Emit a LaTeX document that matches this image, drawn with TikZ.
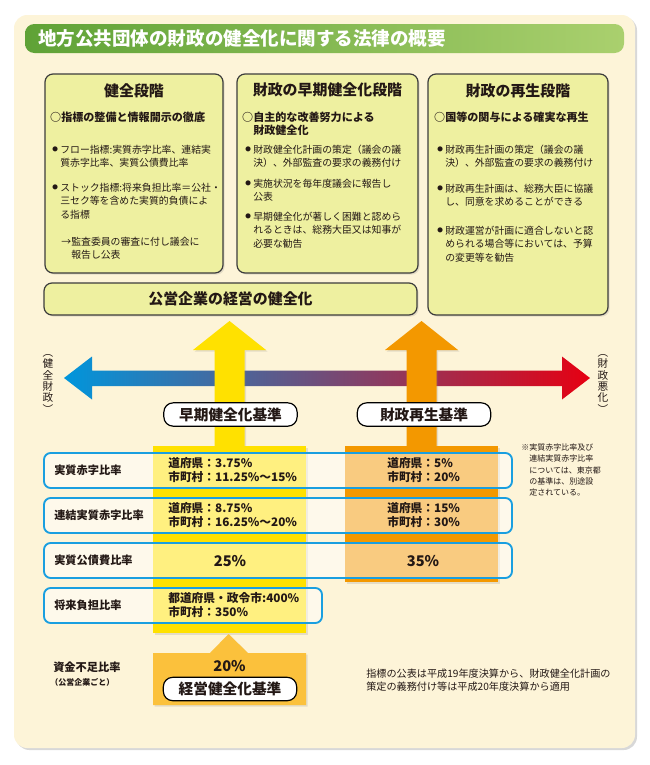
\documentclass[tikz,border=0pt]{standalone}
\usepackage{fontspec}
\setmainfont{Noto Sans CJK JP}
\usetikzlibrary{shadows}
\definecolor{panel}{HTML}{FDF4D8}
\definecolor{boxfill}{HTML}{EEF0A0}
\definecolor{boxline}{HTML}{3C3C3C}
\definecolor{ttlL}{HTML}{5FA236}
\definecolor{ttlR}{HTML}{AAD06E}
\definecolor{yel}{HTML}{FFE100}
\definecolor{org}{HTML}{F39800}
\definecolor{gold}{HTML}{FBC13C}
\definecolor{rowblue}{HTML}{1A9FE0}
\definecolor{ink}{HTML}{231815}
\definecolor{arrL}{HTML}{0096DC}
\definecolor{arrM}{HTML}{86827C}
\definecolor{arrR}{HTML}{E60012}
\newcommand{\bul}{\llap{\raisebox{0.22em}{\fontsize{4.2}{4.2}\selectfont ●}\hspace{1.8pt}}}
\tikzset{
  softshadow/.style={drop shadow={opacity=0.2,shadow xshift=1.2pt,shadow yshift=-1.2pt}},
  stagebox/.style={draw=boxline, line width=0.9pt, fill=boxfill, rounded corners=6pt, softshadow},
  titletext/.style={text=white, font=\bfseries\fontsize{13.9}{16}\selectfont, inner sep=0pt},
  head/.style={text=ink, font=\bfseries\fontsize{11.2}{13}\selectfont, inner sep=0pt},
  circ/.style={text=ink, font=\bfseries\fontsize{8.3}{9.9}\selectfont, inner sep=0pt, anchor=west, align=left},
  body/.style={text=ink, font=\fontsize{7.4}{10}\selectfont, inner sep=0pt, anchor=west, align=left},
  vert/.style={text=ink, font=\fontsize{8}{8.5}\selectfont, inner sep=0pt, align=center},
  pill/.style={draw=black, line width=0.9pt, fill=white, rounded corners=7pt, text=ink,
     font=\bfseries\fontsize{11}{13}\selectfont, inner sep=0pt, minimum width=100pt, minimum height=17.5pt},
  rowbox/.style={draw=rowblue, line width=1.4pt, fill=white, fill opacity=0.5, rounded corners=5pt},
  rowlabel/.style={text=ink, font=\bfseries\fontsize{8.4}{10}\selectfont, inner sep=0pt, anchor=west},
  coltext/.style={text=ink, font=\bfseries\fontsize{8.8}{10.5}\selectfont, inner sep=0pt, anchor=west, align=left},
  bigtext/.style={text=ink, font=\bfseries\fontsize{11}{13}\selectfont, inner sep=0pt},
  note/.style={text=ink, font=\fontsize{6}{8.6}\selectfont, inner sep=0pt, anchor=west, align=left},
  foot/.style={text=ink, font=\fontsize{7.6}{9.9}\selectfont, inner sep=0pt, anchor=west, align=left}
}
\begin{document}
\begin{tikzpicture}[x=0.75pt,y=-0.75pt]
\useasboundingbox (0,0) rectangle (650,765);
\fill[white] (0,0) rectangle (650,765);
% panel
\fill[panel, rounded corners=10pt, drop shadow={opacity=0.3,shadow xshift=1.5pt,shadow yshift=-1.5pt}] (14,15) rectangle (635,748);
% title bar
\shade[left color=ttlL, right color=ttlR, rounded corners=7pt] (25,24) rectangle (624,53);
\node[titletext, anchor=west] (title) at (38,38.5) {地方公共団体の財政の健全化に関する法律の概要};

% stage boxes
\draw[stagebox] (45,74) rectangle (223,273);
\draw[stagebox] (237,74) rectangle (418,273);
\draw[stagebox] (428,74) rectangle (608,315);
\draw[stagebox] (44,283) rectangle (417,315);

% box 1
\node[head] (h1) at (134,91) {健全段階};
\node[circ] (c1) at (61,117) {\llap{○}指標の整備と情報開示の徹底};
\node[body] (b11) at (60,156.5) {\bul フロー指標:実質赤字比率、連結実\\質赤字比率、実質公債費比率};
\node[body] (b12) at (60,201) {\bul ストック指標:将来負担比率＝公社・\\三セク等を含めた実質的負債によ\\る指標};
\node[body] (b13) at (71,248.5) {\llap{→}監査委員の審査に付し議会に\\報告し公表};

% box 2
\node[head] (h2) at (327.5,90) {財政の早期健全化段階};
\node[circ] (c2) at (253,123.5) {\llap{○}自主的な改善努力による\\財政健全化};
\node[body] (b21) at (253,156.5) {\bul 財政健全化計画の策定（議会の議\\決）、外部監査の要求の義務付け};
\node[body] (b22) at (253,190.5) {\bul 実施状況を毎年度議会に報告し\\公表};
\node[body] (b23) at (253,230) {\bul 早期健全化が著しく困難と認めら\\れるときは、総務大臣又は知事が\\必要な勧告};

% box 3
\node[head] (h3) at (518,91) {財政の再生段階};
\node[circ] (c3) at (445,117) {\llap{○}国等の関与による確実な再生};
\node[body] (b31) at (445,156.5) {\bul 財政再生計画の策定（議会の議\\決）、外部監査の要求の義務付け};
\node[body] (b32) at (445,195.5) {\bul 財政再生計画は、総務大臣に協議\\し、同意を求めることができる};
\node[body] (b33) at (445,244) {\bul 財政運営が計画に適合しないと認\\められる場合等においては、予算\\の変更等を勧告};

% box 4
\node[head] (h4) at (230.5,299) {公営企業の経営の健全化};

% horizontal double arrow
\shade[left color=arrL, middle color=arrM, right color=arrR]
  (64,378) -- (92,356.5) -- (92,370.5) -- (562,370.5) -- (562,356.5) -- (590,378)
  -- (562,399.5) -- (562,386) -- (92,386) -- (92,399.5) -- cycle;

% vertical arrows
\fill[yel, softshadow] (214.5,447) -- (214.5,350) -- (193,350) -- (229.5,321) -- (266,350) -- (244.5,350) -- (244.5,447) -- cycle;
\fill[org, softshadow] (406.5,447) -- (406.5,350) -- (385,350) -- (421.5,321) -- (458,350) -- (436.5,350) -- (436.5,447) -- cycle;

% side texts
\node[vert] (lv) at (48,384) {︵\\健\\全\\財\\政\\︶};
\node[vert] (rv) at (603,384) {︵\\財\\政\\悪\\化\\︶};

% criteria labels
\node[pill] (k1) at (230.5,414.5) {早期健全化基準};
\node[pill] (k2) at (424,414.5) {財政再生基準};

% columns
\fill[yel, softshadow] (153,446) rectangle (306,633);
\fill[org, softshadow] (345,446) rectangle (498,582);

% rows
\draw[rowbox] (44,453) rectangle (512,488);
\draw[rowbox] (44,498) rectangle (512,533);
\draw[rowbox] (44,543) rectangle (512,578);
\draw[rowbox] (44,588) rectangle (322,623);

\node[rowlabel] (r1) at (54,470.5) {実質赤字比率};
\node[rowlabel] (r2) at (54,515.5) {連結実質赤字比率};
\node[rowlabel] (r3) at (54,560.5) {実質公債費比率};
\node[rowlabel] (r4) at (54,605.5) {将来負担比率};

\node[coltext] (y1) at (168,470) {道府県：3.75\%\\市町村：11.25\%～15\%};
\node[coltext] (y2) at (168,515) {道府県：8.75\%\\市町村：16.25\%～20\%};
\node[bigtext] (y3) at (230,561) {25\%};
\node[coltext] (y4) at (168,605) {都道府県・政令市:400\%\\市町村：350\%};

\node[coltext] (o1) at (387,470) {道府県：5\%\\市町村：20\%};
\node[coltext] (o2) at (387,515) {道府県：15\%\\市町村：30\%};
\node[bigtext] (o3) at (423,561) {35\%};

% note
\node[note] (nt) at (529,470) {\llap{※}実質赤字比率及び\\連結実質赤字比率\\については、東京都\\の基準は、別途設\\定されている。};

% bottom criterion
\fill[gold, softshadow] (153,653) -- (210,653) -- (228.5,634) -- (248,653) -- (306,653) -- (306,705) -- (153,705) -- cycle;
\node[bigtext] (p20) at (229.5,666) {20\%};
\node[pill] (k3) at (230,689) {経営健全化基準};

\node[rowlabel] (sf1) at (53,667) {資金不足比率};
\node[text=ink, font=\bfseries\fontsize{6}{7}\selectfont, inner sep=0pt, anchor=west] (sf2) at (50,682) {（公営企業ごと）};

\node[foot] (ft) at (366,680) {指標の公表は平成19年度決算から、財政健全化計画の\\策定の義務付け等は平成20年度決算から適用};
\end{tikzpicture}
\end{document}
